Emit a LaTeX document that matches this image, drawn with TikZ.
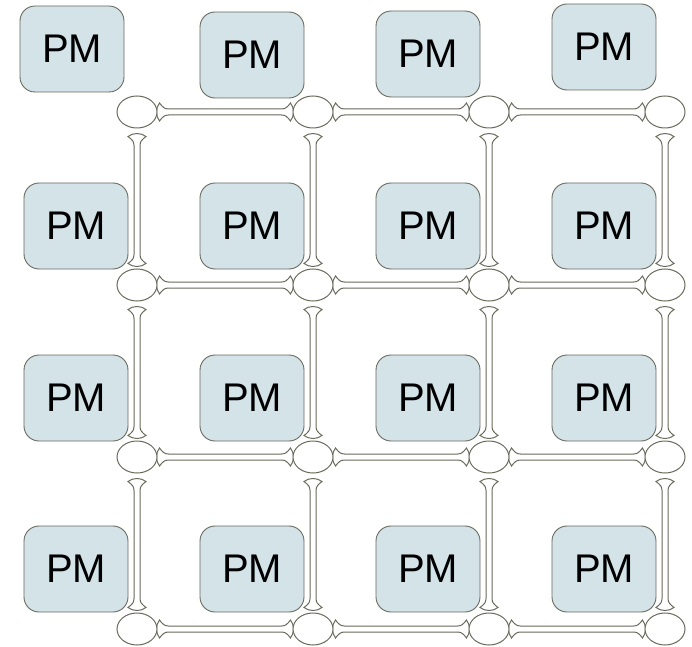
\documentclass[tikz,border=0pt]{standalone}
\usepackage{fontspec}
\setmainfont{Liberation Sans}
\usetikzlibrary{calc,shapes.geometric}
\definecolor{pmfill}{RGB}{211,227,232}
\definecolor{edge}{RGB}{105,105,92}
\tikzset{
  x=1pt,y=1pt,
  pm/.style={draw=edge,fill=pmfill,rounded corners=15pt,minimum width=104pt,minimum height=86pt,line width=0.9pt,inner sep=0pt,font=\fontsize{40}{40}\selectfont},
  hub/.style={draw=edge,fill=white,ellipse,minimum width=40pt,minimum height=32pt,inner sep=0pt,line width=1pt},
  bone/.style={draw=edge,fill=white,line width=1pt},
  hbone/.style={to path={
    let \p1=(\tikztostart), \p2=(\tikztotarget) in
    (\x1,\y1+9) .. controls (\x1+3,\y1+5) and (\x1+5,\y1+3) .. (\x1+9,\y1+3)
    -- (\x2-9,\y2+3) .. controls (\x2-5,\y2+3) and (\x2-3,\y2+5) .. (\x2,\y2+9)
    .. controls (\x2+4,\y2+4) and (\x2+4,\y2-4) .. (\x2,\y2-9)
    .. controls (\x2-3,\y2-5) and (\x2-5,\y2-3) .. (\x2-9,\y2-3)
    -- (\x1+9,\y1-3) .. controls (\x1+5,\y1-3) and (\x1+3,\y1-5) .. (\x1,\y1-9)
    .. controls (\x1-4,\y1-4) and (\x1-4,\y1+4) .. cycle}},
  vbone/.style={to path={
    let \p1=(\tikztostart), \p2=(\tikztotarget) in
    (\x1-9,\y1) .. controls (\x1-5,\y1-3) and (\x1-3,\y1-5) .. (\x1-3,\y1-9)
    -- (\x2-3,\y2+9) .. controls (\x2-3,\y2+5) and (\x2-5,\y2+3) .. (\x2-9,\y2)
    .. controls (\x2-4,\y2-4) and (\x2+4,\y2-4) .. (\x2+9,\y2)
    .. controls (\x2+5,\y2+3) and (\x2+3,\y2+5) .. (\x2+3,\y2+9)
    -- (\x1+3,\y1-9) .. controls (\x1+3,\y1-5) and (\x1+5,\y1-3) .. (\x1+9,\y1)
    .. controls (\x1+4,\y1+4) and (\x1-4,\y1+4) .. cycle}}
}
\begin{document}
\begin{tikzpicture}
\useasboundingbox (0,0) rectangle (692,646);
% PM boxes (y measured from top: 646 - y)
\node[pm] (p11) at (72,597) {PM};
\node[pm] (p12) at (252,591) {PM};
\node[pm] (p13) at (428,592) {PM};
\node[pm] (p14) at (604,599) {PM};
\foreach \r/\yy in {2/420,3/248,4/77}{
  \node[pm] (p\r1) at (76,\yy) {PM};
  \node[pm] (p\r2) at (252,\yy) {PM};
  \node[pm] (p\r3) at (428,\yy) {PM};
  \node[pm] (p\r4) at (604,\yy) {PM};
}
% hubs (placed as coordinates first, drawn after the links)
\foreach \r/\yy in {1/534,2/361,3/189,4/17}{
  \foreach \c/\xx in {1/137,2/313,3/489,4/665}{
    \node[hub,draw=none,fill=none] (h\r\c) at (\xx,\yy) {};
  }
}
% horizontal links
\foreach \r in {1,2,3,4}{
  \draw[bone] ($(h\r1.east)+(2,0)$) to[hbone] ($(h\r2.west)+(-2,0)$);
  \draw[bone] ($(h\r2.east)+(2,0)$) to[hbone] ($(h\r3.west)+(-2,0)$);
  \draw[bone] ($(h\r3.east)+(2,0)$) to[hbone] ($(h\r4.west)+(-2,0)$);
}
% vertical links
\foreach \c in {1,2,3,4}{
  \draw[bone] ($(h1\c.south)+(0,-8)$) to[vbone] ($(h2\c.north)+(0,5)$);
  \draw[bone] ($(h2\c.south)+(0,-8)$) to[vbone] ($(h3\c.north)+(0,5)$);
  \draw[bone] ($(h3\c.south)+(0,-8)$) to[vbone] ($(h4\c.north)+(0,5)$);
}
% hubs drawn on top
\foreach \r in {1,2,3,4}{
  \foreach \c in {1,2,3,4}{
    \node[hub] at (h\r\c) {};
  }
}
\end{tikzpicture}
\end{document}
